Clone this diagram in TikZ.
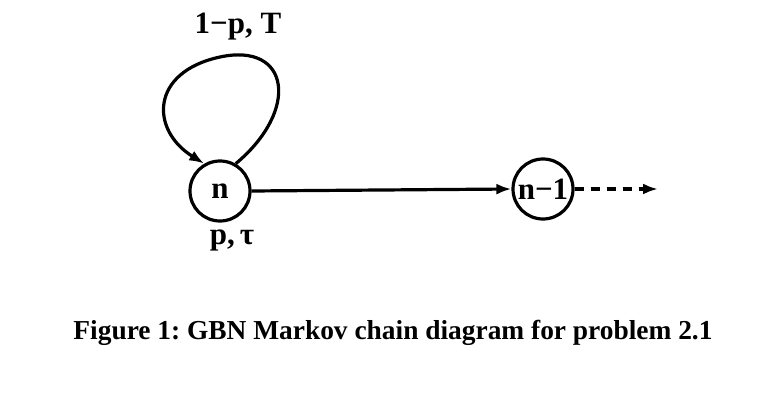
\documentclass[tikz,border=0pt]{standalone}
\usepackage{fontspec}
\setmainfont{Liberation Serif}
\usetikzlibrary{arrows.meta}
\begin{document}
\begin{tikzpicture}[x=1pt,y=-1pt,
  state/.style={circle,draw,line width=3.2pt,minimum size=60pt,inner sep=0pt,font=\fontsize{31}{33}\selectfont\bfseries},
  lbl/.style={font=\fontsize{31}{33}\selectfont\bfseries,inner sep=0pt},
  conn/.style={line width=3.2pt,-{Latex[length=15pt,width=11pt]}}]
\fill[white!97!blue!3] (0,0) rectangle (771,406);
\useasboundingbox (0,0) rectangle (771,406);
\node[state] (n) at (220,191) {n};
\node[state] (m) at (543,189) {n−1};
\coordinate (end) at (658,189);
\draw[conn] (n.east) -- (m.west);
\draw[conn,dashed,dash pattern=on 9pt off 7pt] (m.east) -- (end);
\draw[conn] (n.60) .. controls (300,110) and (290,42) .. (220,57) .. controls (150,72) and (150,130) .. (n.120);
\node[lbl] (t) at (238,27) {1−p, T};
\node[lbl] (b) at (232,240) {p,\,τ};
\node[lbl,font=\fontsize{27.4}{30}\selectfont\bfseries] (cap) at (393,333) {\frenchspacing Figure 1: GBN Markov chain diagram for problem 2.1};
\end{tikzpicture}
\end{document}
